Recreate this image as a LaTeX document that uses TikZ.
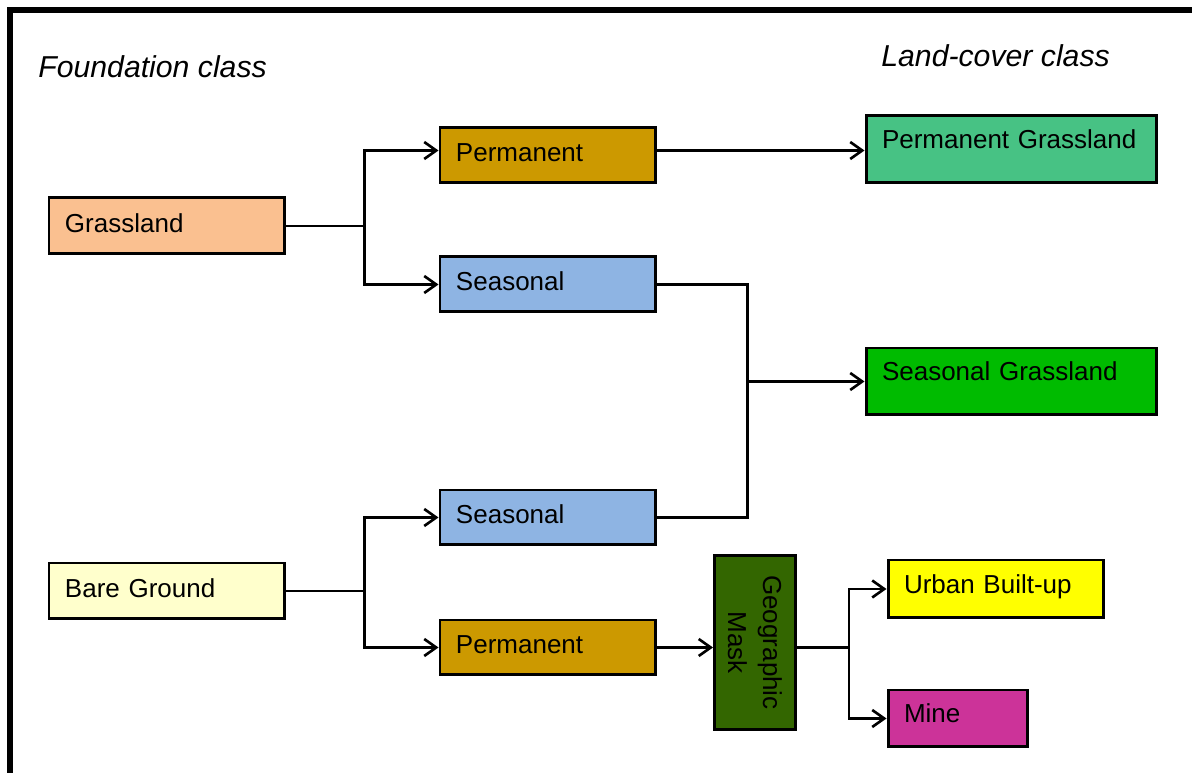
\documentclass[tikz,border=0pt]{standalone}
\usepackage{fontspec}
\setmainfont{Liberation Sans}
\usetikzlibrary{arrows.meta}
\definecolor{grassorange}{HTML}{FAC090}
\definecolor{bareyellow}{HTML}{FFFFCC}
\definecolor{permgold}{HTML}{CC9900}
\definecolor{seasblue}{HTML}{8EB4E3}
\definecolor{permgreen}{HTML}{47C284}
\definecolor{seasgreen}{HTML}{00BB00}
\definecolor{maskgreen}{HTML}{336600}
\definecolor{urbanyellow}{HTML}{FFFF00}
\definecolor{minepink}{HTML}{CC3399}
\tikzset{
  class box/.style={
    draw=black,
    line width=1.7pt,
    anchor=north west,
    inner xsep=0.32cm,
    inner ysep=0pt,
    align=left,
    font=\fontsize{14.8}{18}\selectfont,
    text height=4.5mm,
    text depth=#1,
  },
  class box/.default=1.9mm,
  heading/.style={
    anchor=base west,
    inner sep=0pt,
    font=\fontsize{17.2}{20}\selectfont\itshape,
  },
  connector/.style={
    line width=1.5pt,
  },
  flow/.style={
    connector,
    -{Straight Barb[length=2.4mm,width=3.4mm]},
  }
}

\begin{document}
\begin{tikzpicture}[x=0.02cm, y=-0.02cm]
        \clip (0,0) rectangle (1192,773);
        \draw [line width=3.4pt] (10,10) rectangle (1250,850);

        \node [heading] (h1) at (38,78) {Foundation class};
        \node [heading] (h2) at (881,67) {Land-cover class};

        \node [class box, fill=grassorange, text width=4.08cm, minimum width=4.72cm, minimum height=1.12cm] (g) at (47.5,196.5) {Grassland};
        \node [class box, fill=bareyellow, text width=4.08cm, minimum width=4.72cm, minimum height=1.12cm] (b) at (47.5,561.5) {Bare Ground};

        \node [class box, fill=permgold, text width=3.68cm, minimum width=4.32cm, minimum height=1.10cm] (p1) at (438.5,126.5) {Permanent};
        \node [class box, fill=seasblue, text width=3.68cm, minimum width=4.32cm, minimum height=1.10cm] (s1) at (438.5,255.5) {Seasonal};
        \node [class box, fill=seasblue, text width=3.68cm, minimum width=4.32cm, minimum height=1.10cm] (s2) at (438.5,488.5) {Seasonal};
        \node [class box, fill=permgold, text width=3.68cm, minimum width=4.32cm, minimum height=1.10cm] (pb) at (438.5,618.5) {Permanent};

        \node [class box=4.7mm, fill=permgreen, text width=5.18cm, minimum width=5.82cm, minimum height=1.34cm] (pg) at (864.5,114.5) {Permanent Grassland};
        \node [class box=4.7mm, fill=seasgreen, text width=5.18cm, minimum width=5.82cm, minimum height=1.34cm] (sg) at (864.5,346.5) {Seasonal Grassland};

        \node [draw=black, line width=1.7pt, fill=maskgreen, rotate=-90, inner sep=0pt, minimum width=3.48cm, minimum height=1.62cm, align=center, font=\fontsize{14.8}{19.9}\selectfont] (m) at (755,642.5) {Geographic\\Mask};

        \node [class box=2.7mm, fill=urbanyellow, text width=3.68cm, minimum width=4.32cm, minimum height=1.16cm] (u) at (886.5,558.5) {Urban Built-up};
        \node [class box=2.7mm, fill=minepink, text width=2.16cm, minimum width=2.80cm, minimum height=1.14cm] (mi) at (886.5,688.5) {Mine};

        \draw [connector] (g.east) -- ++(78,0) coordinate (ga);
        \draw [flow] (ga) |- ([yshift=1mm]p1.west);
        \draw [flow] (ga) |- (s1.west);
        \draw [flow] ([yshift=1mm]p1.east) coordinate (pa) -- (pa -| pg.west);

        \draw [connector] (s1.east) -- ++(90,0) coordinate (sa) |- (s2.east);
        \draw [flow] (sa |- sg.west) -- (sg.west);

        \draw [connector] (b.east) -- ++(78,0) coordinate (ba);
        \draw [flow] (ba) |- (s2.west);
        \draw [flow] (ba) |- (pb.west);
        \draw [flow] (pb.east) -- (pb.east -| m.south);

        \draw [connector] (m.north |- pb.east) -- ++(52,0) coordinate (ma);
        \draw [flow] (ma) |- (u.west);
        \draw [flow] (ma) |- (mi.west);
\end{tikzpicture}
\end{document}
